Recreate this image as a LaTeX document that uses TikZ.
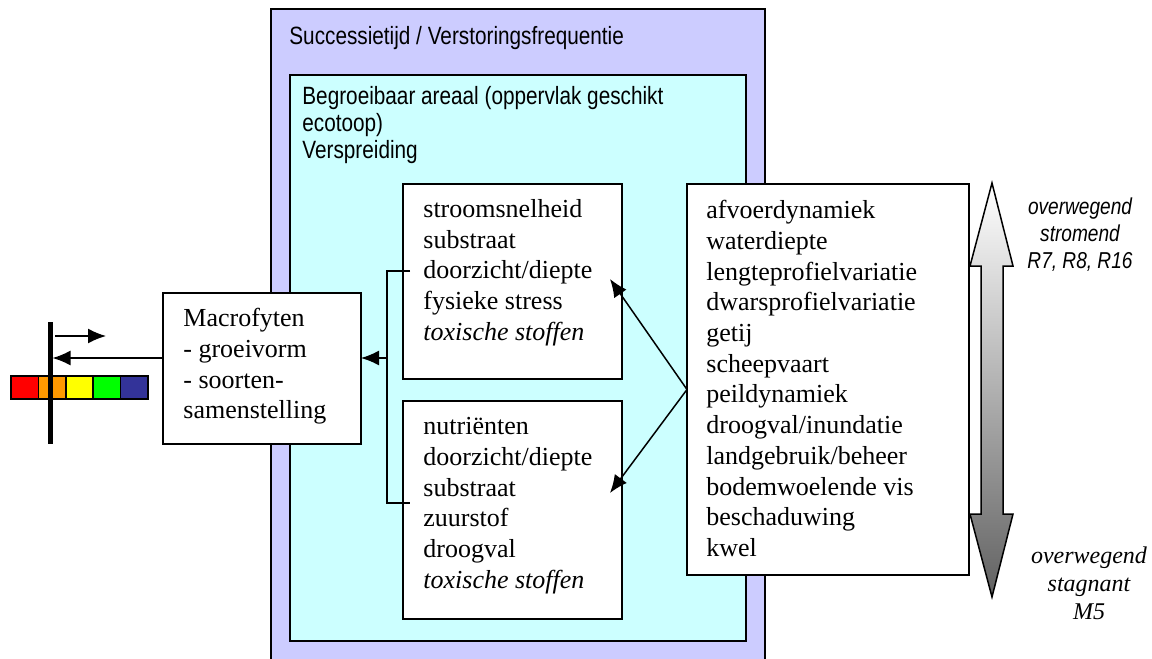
\documentclass[tikz,border=0pt]{standalone}
\usepackage{fontspec}
\setmainfont{Liberation Serif}
\newfontfamily\narrowsf[FakeStretch=0.83]{Liberation Sans}
\usetikzlibrary{arrows.meta,positioning}

\definecolor{lilac}{HTML}{CCCCFF}
\definecolor{paleaqua}{HTML}{CCFFFF}
\definecolor{barred}{HTML}{FF0000}
\definecolor{barorange}{HTML}{FF9900}
\definecolor{baryellow}{HTML}{FFFF00}
\definecolor{bargreen}{HTML}{00FF00}
\definecolor{barblue}{HTML}{333399}

\tikzset{
    panel/.style={draw, line width=0.75pt, inner sep=0pt, outer sep=0pt, anchor=north west},
    whitebox/.style={panel, fill=white},
    boxtext/.style={anchor=north west, align=left, inner sep=0pt, font=\fontsize{13}{15.35}\selectfont},
    sftext/.style={anchor=north west, align=left, inner sep=0pt, font=\narrowsf\fontsize{12.5}{13.5}\selectfont},
    link/.style={line width=0.75pt, -{Latex[length=9pt,width=7.5pt]}},
}

\begin{document}
\begin{tikzpicture}[x=0.5pt,y=-0.5pt]
    \useasboundingbox (0,0) rectangle (1152,659);
    \clip (0,0) rectangle (1152,659);

    % Draw the two background frames
    \node[panel, fill=lilac, minimum width=247pt, minimum height=328pt] (succbox) at (271,9) {};
    \node[sftext] (succtxt) at ([shift={(18,17)}]succbox.north west) {Successietijd / Verstoringsfrequentie};
    \node[panel, fill=paleaqua, minimum width=228pt, minimum height=283pt] (areabox) at (290,75) {};
    \node[sftext] (areatxt) at ([shift={(12,11)}]areabox.north west) {Begroeibaar areaal (oppervlak geschikt\\ecotoop)\\Verspreiding};

    % Draw the factor boxes
    \node[whitebox, minimum width=109.5pt, minimum height=97.5pt] (flow) at (403,184) {};
    \node[boxtext] (flowtxt) at ([shift={(20,15)}]flow.north west) {stroomsnelheid\\substraat\\doorzicht/diepte\\fysieke stress\\\textit{toxische stoffen}};
    \node[whitebox, minimum width=109.5pt, minimum height=109pt] (nutr) at (403,401) {};
    \node[boxtext] (nutrtxt) at ([shift={(20,16)}]nutr.north west) {nutriënten\\doorzicht/diepte\\substraat\\zuurstof\\droogval\\\textit{toxische stoffen}};
    \node[whitebox, minimum width=141pt, minimum height=195.5pt] (drivers) at (687,184) {};
    \node[boxtext] (driverstxt) at ([shift={(19,16)}]drivers.north west) {afvoerdynamiek\\waterdiepte\\lengteprofielvariatie\\dwarsprofielvariatie\\getij\\scheepvaart\\peildynamiek\\droogval/inundatie\\landgebruik/beheer\\bodemwoelende vis\\beschaduwing\\kwel};
    \node[whitebox, minimum width=99pt, minimum height=75.5pt] (macro) at (163,293) {};
    \node[boxtext] (macrotxt) at ([shift={(20,15)}]macro.north west) {Macrofyten\\- groeivorm\\- soorten-\\samenstelling};

    % Draw the bracket and the arrows between the boxes
    \coordinate (brtop) at (410,271);
    \coordinate (brbot) at (410,503);
    \coordinate (brmid) at (387,358);
    \draw[line width=0.75pt] (brtop) -- (brtop -| brmid) -- (brbot -| brmid) -- (brbot);
    \draw[link] (brmid) -- (brmid -| macro.east);
    \coordinate (fork) at ([shift={(0,10)}]drivers.west);
    \coordinate (flowtip) at (610,279);
    \coordinate (nutrtip) at (610,493);
    \draw[link] (fork) -- (flowtip);
    \draw[link] (fork) -- (nutrtip);

    % Draw the colour scale with its marker
    \foreach \c [count=\i from 0] in {barred,barorange,baryellow,bargreen,barblue}
        \draw[fill=\c, line width=0.75pt] (11+\i*27.4,376) rectangle ++(27.4,23);
    \coordinate (bartop) at (50,322);
    \coordinate (barbot) at (50,444);
    \draw[line width=2.5pt] (bartop) -- (barbot);
    \draw[link, shorten >=1.25pt] (brmid -| macro.west) -- (brmid -| bartop);
    \coordinate (shiftA) at (55,336);
    \coordinate (shiftB) at (106,336);
    \draw[link] (shiftA) -- (shiftB);

    % Draw the gradient arrow with its labels
    \shadedraw[top color=white, bottom color=black!62, line width=0.75pt] (992,183) -- (1013,266) -- (1003,266) -- (1003,514) -- (1013,514) -- (992,597) -- (970,514) -- (981,514) -- (981,266) -- (970,266) -- cycle;
    \node[anchor=north, align=center, inner sep=0pt, font=\narrowsf\itshape\fontsize{11.5}{13.5}\selectfont] (flowing) at (1080,197) {overwegend\\stromend\\R7, R8, R16};
    \node[anchor=north, align=center, inner sep=0pt, font=\itshape\fontsize{12}{14}\selectfont] (stagnant) at (1089,546) {overwegend\\stagnant\\M5};
\end{tikzpicture}
\end{document}
